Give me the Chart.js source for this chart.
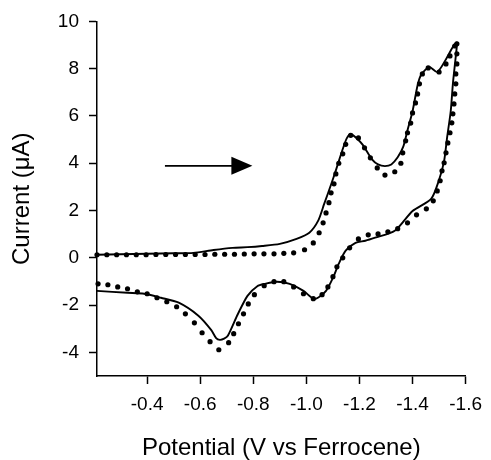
<!DOCTYPE html>
<html>
<head>
<meta charset="utf-8">
<script src="https://cdn.jsdelivr.net/npm/chart.js@4.4.0/dist/chart.umd.min.js"></script>
<style>
  body { margin: 0; background: #fff; }
  #wrap { width: 491px; height: 460px; }
</style>
</head>
<body>
<div id="wrap"><canvas id="cv"></canvas></div>
<script>
// experimental scan (solid line), forward then reverse
const expPotential = [
  -0.211, -0.30, -0.40, -0.50, -0.574, -0.65, -0.722, -0.778, -0.833, -0.90, -0.963, -1.011, -1.044, -1.067,
  -1.093, -1.111, -1.137, -1.152, -1.167, -1.19, -1.211, -1.248, -1.27, -1.296, -1.32, -1.344, -1.365, -1.381,
  -1.40, -1.419, -1.433, -1.463, -1.493, -1.526, -1.556, -1.567,
  -1.563, -1.552, -1.544, -1.530, -1.519, -1.50, -1.470, -1.40, -1.333, -1.259, -1.222, -1.185, -1.148, -1.122,
  -1.10, -1.074, -1.045, -1.026, -0.989, -0.937, -0.889, -0.844, -0.815, -0.778, -0.741, -0.704, -0.69, -0.674,
  -0.66, -0.641, -0.593, -0.519, -0.452, -0.389, -0.326, -0.211
];
const expCurrent = [
  0.13, 0.15, 0.17, 0.19, 0.21, 0.33, 0.42, 0.45, 0.50, 0.59, 0.80, 1.06, 1.56, 2.28,
  3.1, 3.7, 4.6, 5.05, 5.24, 5.05, 4.8, 4.15, 3.95, 3.88, 3.95, 4.25, 4.7, 5.4,
  6.2, 7.3, 7.75, 8.07, 7.86, 8.4, 9.0, 9.1,
  8.54, 7.36, 6.22, 5.07, 4.10, 3.3, 2.49, 1.98, 1.14, 0.85, 0.72, 0.63, 0.30, -0.25,
  -0.85, -1.40, -1.68, -1.73, -1.40, -1.10, -1.01, -1.10, -1.20, -1.61, -2.40, -3.3, -3.42, -3.47,
  -3.4, -3.05, -2.45, -1.90, -1.69, -1.52, -1.48, -1.40
];

// simulated scan (dots)
const simPotential = [
  -0.211, -0.248, -0.285, -0.322, -0.359, -0.396, -0.433, -0.470, -0.507, -0.544, -0.581, -0.618, -0.655,
  -0.692, -0.729, -0.766, -0.803, -0.840, -0.878, -0.915, -0.952, -0.993, -1.026, -1.048, -1.063, -1.074,
  -1.085, -1.093, -1.104, -1.111, -1.122, -1.137, -1.148, -1.167, -1.196, -1.219, -1.241, -1.267, -1.296,
  -1.333, -1.356, -1.363, -1.374, -1.381, -1.393, -1.40, -1.411, -1.419, -1.426, -1.437, -1.459, -1.500,
  -1.526, -1.541, -1.559, -1.567,
  -1.567, -1.567, -1.563, -1.563, -1.559, -1.556, -1.552, -1.548, -1.541, -1.533, -1.526, -1.519, -1.511,
  -1.504, -1.493, -1.478, -1.452, -1.415, -1.381, -1.344, -1.307, -1.270, -1.233, -1.196, -1.163, -1.137,
  -1.115, -1.100, -1.081, -1.059, -1.026, -0.989, -0.952, -0.915, -0.878, -0.841, -0.804, -0.781, -0.763,
  -0.744, -0.726, -0.707, -0.670, -0.637, -0.607, -0.578, -0.544, -0.511, -0.474, -0.437, -0.400, -0.363,
  -0.326, -0.289, -0.252, -0.215
];
const simCurrent = [
  0.13, 0.13, 0.13, 0.13, 0.13, 0.13, 0.14, 0.14, 0.14, 0.14, 0.14, 0.14, 0.15,
  0.15, 0.15, 0.16, 0.17, 0.17, 0.17, 0.19, 0.21, 0.34, 0.63, 1.06, 1.48, 1.90,
  2.33, 2.75, 3.13, 3.55, 4.0, 4.4, 4.8, 5.18, 5.07, 4.65, 4.23, 3.8, 3.5,
  3.64, 4.0, 4.44, 4.95, 5.29, 5.7, 6.13, 6.55, 6.93, 7.36, 7.78, 8.03, 7.86,
  8.2, 8.54, 8.96, 9.05,
  8.63, 8.20, 7.78, 7.36, 6.93, 6.51, 6.09, 5.71, 5.29, 4.86, 4.44, 4.02, 3.68,
  3.26, 2.83, 2.41, 2.07, 1.82, 1.48, 1.23, 1.10, 1.01, 0.97, 0.80, 0.42, 0.0,
  -0.38, -0.80, -1.23, -1.56, -1.73, -1.52, -1.23, -1.01, -1.01, -1.18, -1.56, -1.95, -2.37,
  -2.79, -3.21, -3.59, -3.89, -3.55, -3.17, -2.75, -2.37, -2.07, -1.86, -1.69, -1.52, -1.44,
  -1.31, -1.23, -1.14, -1.10
];

const xTicks = [-0.4, -0.6, -0.8, -1.0, -1.2, -1.4, -1.6];
const yTicks = [-4, -2, 0, 2, 4, 6, 8, 10];

// scan direction arrow (in data units)
const arrowFrom = -0.467;
const arrowTo = -0.789;
const arrowLevel = 3.89;

const toPoints = (xs, ys) => xs.map((v, i) => ({ x: v, y: ys[i] }));

const arrowPlugin = {
  id: 'scanArrow',
  afterDatasetsDraw(chart) {
    const { ctx, scales: { x, y } } = chart;
    const x0 = x.getPixelForValue(arrowFrom);
    const x1 = x.getPixelForValue(arrowTo);
    const yy = y.getPixelForValue(arrowLevel);
    ctx.save();
    ctx.strokeStyle = '#000';
    ctx.fillStyle = '#000';
    ctx.lineWidth = 1.6;
    ctx.beginPath();
    ctx.moveTo(x0, yy);
    ctx.lineTo(x1 - 18, yy);
    ctx.stroke();
    ctx.beginPath();
    ctx.moveTo(x1 + 2, yy);
    ctx.lineTo(x1 - 19, yy - 9);
    ctx.lineTo(x1 - 19, yy + 9);
    ctx.closePath();
    ctx.fill();
    ctx.restore();
  }
};

const font = { family: '"Liberation Sans", Arial, Helvetica, sans-serif' };

new Chart(document.getElementById('cv'), {
  type: 'scatter',
  data: {
    datasets: [
      {
        label: 'experiment',
        data: toPoints(expPotential, expCurrent),
        showLine: true,
        borderColor: '#000',
        borderWidth: 1.9,
        pointRadius: 0,
        tension: 0.25,
        clip: false
      },
      {
        label: 'simulation',
        data: toPoints(simPotential, simCurrent),
        showLine: false,
        pointRadius: 2.6,
        pointBackgroundColor: '#000',
        pointBorderWidth: 0,
        clip: false
      }
    ]
  },
  options: {
    responsive: true,
    maintainAspectRatio: false,
    animation: false,
    layout: { padding: { top: 20, right: 19, left: 0, bottom: 0 } },
    plugins: {
      legend: { display: false },
      tooltip: { enabled: false }
    },
    scales: {
      x: {
        type: 'linear',
        reverse: true,
        min: -1.6,
        max: -0.211,
        afterBuildTicks: s => { s.ticks = xTicks.map(v => ({ value: v })); },
        afterFit: s => { s.height = 84; },
        border: { color: '#000', width: 1.5 },
        grid: { drawOnChartArea: false, tickLength: 8, color: '#000', tickWidth: 1.5 },
        ticks: {
          color: '#000',
          padding: 9,
          font: { ...font, size: 19 },
          callback: v => v.toFixed(1)
        },
        title: {
          display: true,
          text: 'Potential (V vs Ferrocene)',
          color: '#000',
          padding: { top: 0, bottom: -3 },
          font: { ...font, size: 24 }
        }
      },
      y: {
        min: -5,
        max: 10,
        afterBuildTicks: s => { s.ticks = yTicks.map(v => ({ value: v })); },
        afterFit: s => { s.width = 97; },
        border: { color: '#000', width: 1.5 },
        grid: { drawOnChartArea: false, tickLength: 8, color: '#000', tickWidth: 1.5 },
        ticks: {
          color: '#000',
          padding: 10,
          font: { ...font, size: 19 }
        },
        title: {
          display: true,
          text: 'Current (μA)',
          color: '#000',
          padding: { top: 8, bottom: 0 },
          font: { ...font, size: 24 }
        }
      }
    }
  },
  plugins: [arrowPlugin]
});
</script>
</body>
</html>
